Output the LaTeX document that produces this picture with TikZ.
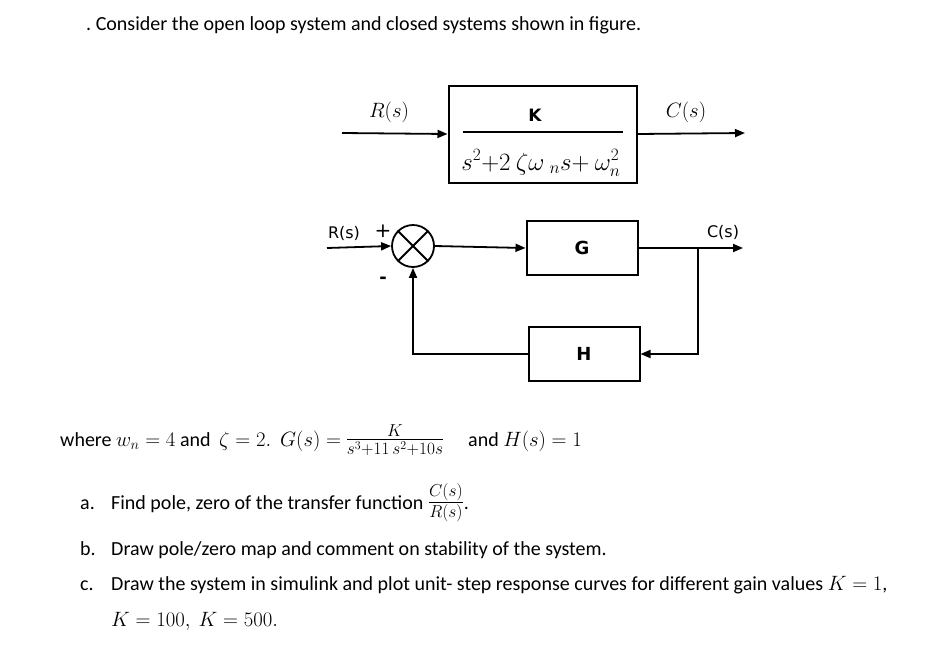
\documentclass[tikz,border=0pt]{standalone}
\usepackage{amsmath}
\usepackage{fontspec}
\setmainfont{Carlito}
\newfontfamily\blockfont{DejaVu Sans}
\usetikzlibrary{arrows.meta,positioning}

\begin{document}
\begin{tikzpicture}[x=1pt,y=-1pt,
  every node/.style={inner sep=0pt},
  sig/.style={line width=1.8pt,-{Triangle[length=10pt,width=8pt]}},
  block/.style={draw,line width=2pt,minimum width=111pt,minimum height=54pt,
    font=\blockfont\bfseries\fontsize{18}{20}\selectfont},
  sumnode/.style={draw,circle,line width=1.8pt,minimum size=42pt},
  lbl/.style={font=\blockfont\fontsize{16}{18}\selectfont},
  txt/.style={font=\fontsize{20}{24}\selectfont,anchor=base west}]
  \useasboundingbox (0,0) rectangle (950,664);

  % question
  \node[txt] (title) at (86,30) {.\ Consider the open loop system and closed systems shown in figure.};

  % OPEN LOOP
  \node[draw,line width=2pt,minimum width=188pt,minimum height=97pt] (plant) at (542.5,134) {};
  \draw[line width=1.5pt] (plant.center) ++(-80,-2) -- ++(160,0);
  \node[font=\blockfont\bfseries\fontsize{17}{19}\selectfont] (num) at (535,115) {K};
  \node[font=\fontsize{23}{26}\selectfont] (den) at (541,163) {$s^{2}{+}2\ \zeta\omega\ {}_{n}s{+}\ \omega_{n}^{2}$};
  \coordinate (rin) at (342,133);
  \coordinate (cout) at (745,133);
  \draw[sig] (rin) -- (plant.west);
  \draw[sig] (plant.east) -- (cout);
  \node[font=\fontsize{22.5}{25}\selectfont] (rlabel) at (389,112) {$R(s)$};
  \node[font=\fontsize{22.5}{25}\selectfont] (clabel) at (686,112) {$C(s)$};

  % CLOSED LOOP
  \node[sumnode] (sum) at (413,246) {};
  \draw[line width=1.8pt] (sum.north west) -- (sum.south east)
    (sum.north east) -- (sum.south west);
  \node[block] (G) at (582,248) {G};
  \node[block] (H) at (584,354) {H};
  \coordinate (rin2) at (327,248);
  \coordinate (cout2) at (743,248);
  \coordinate (branch) at (698,248);
  \draw[sig] (rin2) -- (sum.west);
  \draw[sig] (sum.east) -- (G.west);
  \draw[sig] (G.east) -- (cout2);
  \draw[sig] (branch) |- (H.east);
  \draw[sig] (H.west) -| (sum.south);
  \node[lbl] (rlabel2) at (344,233) {R(s)};
  \node[lbl,font=\blockfont\fontsize{20}{22}\selectfont] (plus) at (383,231) {+};
  \node[lbl,font=\blockfont\bfseries\fontsize{18}{20}\selectfont] (minus) at (383,280) {-};
  \node[lbl] (clabel2) at (723,232) {C(s)};

  % data and tasks
  \node[txt] (where) at (60,446) {where $w_n = 4$ and};
  \node[txt] (zeta) at (219,446) {$\zeta = 2.$};
  \node[txt] (gs) at (280,446) {$G(s) =$\ {\fontsize{24}{26}\selectfont$\frac{K}{s^3+11\,s^2+10s}$}};
  \node[txt] (hs) at (468,446) {and $H(s) = 1$};
  \node[txt] (ta) at (80,509) {a.};
  \node[txt] (qa) at (111,509) {Find pole, zero of the transfer function {\fontsize{24}{26}\selectfont$\frac{C(s)}{R(s)}$}.};
  \node[txt] (tb) at (80,555) {b.};
  \node[txt] (qb) at (111,555) {Draw pole/zero map and comment on stability of the system.};
  \node[txt] (tc) at (80,590) {c.};
  \node[txt] (qc) at (111,590) {Draw the system in simulink and plot unit- step response curves for different gain values $K = 1$,};
  \node[txt] (qc2) at (111,626) {$K = 100,\ K = 500.$};
\end{tikzpicture}
\end{document}
